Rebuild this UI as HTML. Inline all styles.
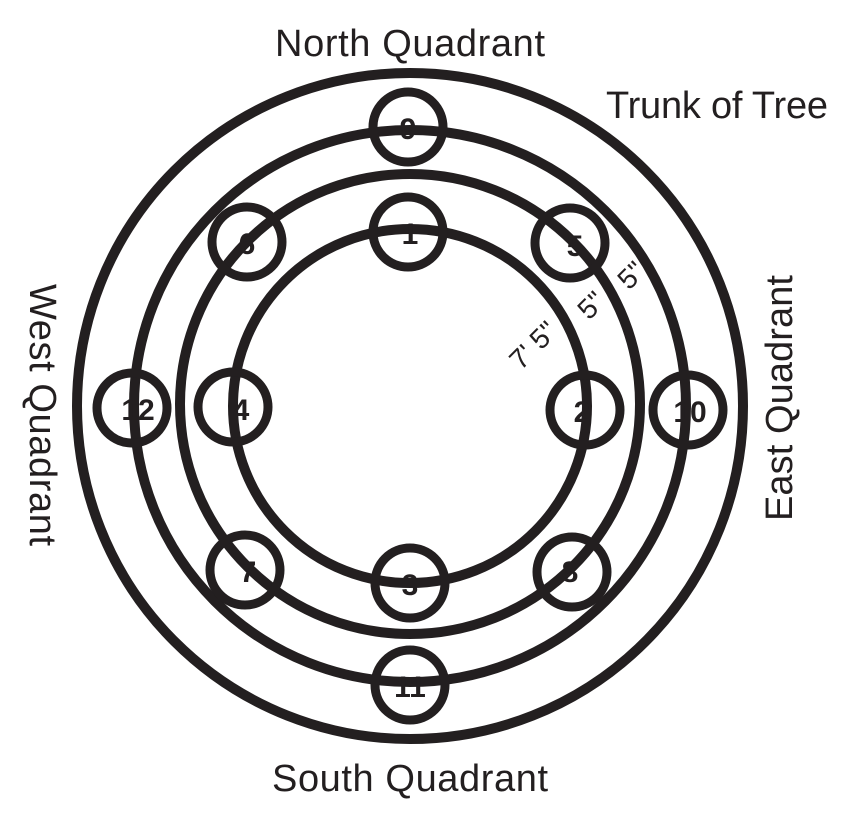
<!DOCTYPE html>
<html><head><style>html,body{margin:0;padding:0;background:#fff}</style></head>
<body>
<svg width="861" height="825" viewBox="0 0 861 825" xmlns="http://www.w3.org/2000/svg" font-family="Liberation Sans, sans-serif">
<g fill="none" stroke="#231f20" stroke-width="10">
<circle cx="410" cy="406" r="333"/>
<circle cx="410" cy="406" r="276"/>
<circle cx="410" cy="404" r="230"/>
<circle cx="410" cy="406" r="177"/>
</g>
<g fill="none" stroke="#231f20" stroke-width="9">
<circle cx="408" cy="127" r="35"/>
<circle cx="408" cy="232" r="35"/>
<circle cx="570" cy="243" r="35"/>
<circle cx="247" cy="242" r="35"/>
<circle cx="132" cy="408" r="35"/>
<circle cx="233" cy="407" r="35"/>
<circle cx="585" cy="410" r="35"/>
<circle cx="688" cy="410" r="35"/>
<circle cx="245" cy="570" r="35"/>
<circle cx="410" cy="583" r="35"/>
<circle cx="572" cy="572" r="35"/>
<circle cx="410" cy="685" r="35"/>
</g>
<g fill="#231f20" font-weight="bold" font-size="30" text-anchor="middle">
<text x="408" y="139">9</text>
<text x="410" y="244">1</text>
<text x="575" y="256">5</text>
<text x="247" y="254">6</text>
<text x="138" y="420">12</text>
<text x="241" y="420">4</text>
<text x="582" y="422">2</text>
<text x="690" y="422">10</text>
<text x="248" y="582">7</text>
<text x="410" y="595">3</text>
<text x="570" y="582">8</text>
<text x="410" y="697">11</text>
</g>
<g fill="#231f20" font-size="38">
<text x="410" y="56" text-anchor="middle" textLength="270">North Quadrant</text>
<text x="717" y="118" text-anchor="middle" textLength="222">Trunk of Tree</text>
<text x="410" y="791" text-anchor="middle" textLength="276">South Quadrant</text>
<text transform="translate(30,415) rotate(90)" text-anchor="middle" textLength="262">West Quadrant</text>
<text transform="translate(792,398) rotate(-90)" text-anchor="middle" textLength="246">East Quadrant</text>
</g>
<g fill="#231f20" font-size="28" text-anchor="middle">
<text transform="translate(540,352) rotate(-45)">7' 5"</text>
<text transform="translate(598,312) rotate(-45)">5"</text>
<text transform="translate(638,282) rotate(-45)">5"</text>
</g>
</svg>
</body></html>
